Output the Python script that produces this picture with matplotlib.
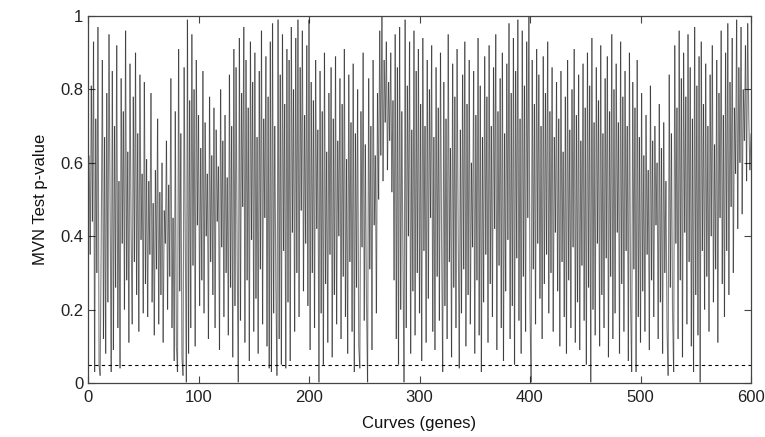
import matplotlib
matplotlib.use("Agg")
import matplotlib.pyplot as plt
import numpy as np
from matplotlib.collections import LineCollection

# MVN test p-values for each curve (gene)
pvalues = [
    0.62,0.35,0.81,0.44,0.93,0.03,0.72,0.30,0.97,0.05,0.02,0.41,0.88,0.12,0.67,0.08,0.79,0.22,0.95,0.48,
    0.03,0.85,0.09,0.70,0.26,0.92,0.15,0.55,0.04,0.83,0.38,0.74,0.20,0.96,0.28,0.63,0.11,0.87,0.42,0.16,
    0.78,0.33,0.90,0.24,0.68,0.14,0.84,0.39,0.57,0.19,0.82,0.27,0.61,0.18,0.55,0.35,0.79,0.22,0.49,0.13,
    0.58,0.31,0.72,0.16,0.52,0.24,0.60,0.11,0.47,0.38,0.66,0.20,0.54,0.29,0.83,0.15,0.45,0.06,0.74,0.10,
    0.03,0.91,0.25,0.68,0.07,0.02,0.86,0.40,0.002,0.99,0.08,0.77,0.15,0.95,0.32,0.80,0.10,0.88,0.43,0.73,
    0.21,0.64,0.28,0.85,0.19,0.71,0.40,0.57,0.12,0.78,0.33,0.62,0.24,0.75,0.15,0.69,0.44,0.59,0.09,0.80,
    0.37,0.66,0.18,0.73,0.30,0.56,0.13,0.84,0.26,0.70,0.07,0.91,0.21,0.86,0.34,0.002,0.94,0.17,0.79,0.48,
    0.97,0.11,0.88,0.28,0.75,0.06,0.93,0.39,0.82,0.14,0.90,0.23,0.67,0.08,0.85,0.31,0.96,0.16,0.72,0.45,
    0.89,0.10,0.78,0.04,0.93,0.03,0.98,0.19,0.70,0.27,0.02,0.99,0.12,0.84,0.05,0.95,0.36,0.76,0.04,0.91,
    0.22,0.88,0.06,0.97,0.41,0.80,0.14,0.94,0.30,0.99,0.18,0.86,0.47,0.96,0.25,0.73,0.38,0.92,0.21,0.99,
    0.09,0.82,0.30,0.77,0.15,0.88,0.42,0.69,0.002,0.85,0.19,0.74,0.05,0.90,0.27,0.63,0.11,0.79,0.35,0.86,
    0.07,0.72,0.24,0.89,0.16,0.66,0.40,0.83,0.12,0.76,0.29,0.91,0.18,0.61,0.08,0.84,0.33,0.71,0.14,0.87,
    0.03,0.68,0.26,0.80,0.10,0.04,0.74,0.37,0.90,0.17,0.65,0.22,0.002,0.83,0.31,0.70,0.09,0.88,0.43,0.62,
    0.19,0.79,0.50,0.96,0.62,1.00,0.55,0.88,0.71,0.93,0.58,0.82,0.66,0.90,0.52,0.77,0.28,0.95,0.12,0.86,
    0.05,0.97,0.20,0.74,0.34,0.002,0.99,0.15,0.81,0.40,0.93,0.08,0.69,0.25,0.96,0.13,0.85,0.30,0.91,0.19,
    0.76,0.06,0.94,0.36,0.70,0.11,0.88,0.23,0.80,0.45,0.92,0.14,0.67,0.09,0.86,0.29,0.75,0.17,0.90,0.38,
    0.03,0.82,0.21,0.72,0.12,0.95,0.33,0.64,0.07,0.87,0.26,0.78,0.15,0.91,0.41,0.04,0.69,0.19,0.84,0.31,
    0.93,0.10,0.76,0.24,0.88,0.16,0.60,0.37,0.85,0.08,0.73,0.28,0.94,0.13,0.81,0.03,0.67,0.22,0.89,0.35,
    0.78,0.11,0.92,0.27,0.70,0.18,0.86,0.42,0.95,0.09,0.74,0.32,0.83,0.15,0.90,0.06,0.68,0.25,0.87,0.39,
    0.98,0.12,0.79,0.21,0.94,0.05,0.85,0.34,0.99,0.17,0.72,0.08,0.96,0.29,0.81,0.14,0.93,0.45,1.00,0.20,
    0.002,0.88,0.31,0.76,0.16,0.91,0.38,0.84,0.23,0.70,0.12,0.89,0.27,0.79,0.35,0.93,0.19,0.74,0.30,0.86,
    0.14,0.67,0.41,0.82,0.25,0.72,0.10,0.85,0.33,0.63,0.18,0.78,0.08,0.88,0.28,0.69,0.15,0.80,0.37,0.91,
    0.11,0.73,0.22,0.84,0.09,0.66,0.32,0.87,0.17,0.75,0.05,0.90,0.26,0.81,0.002,0.94,0.20,0.71,0.13,0.86,
    0.38,0.77,0.10,0.92,0.24,0.68,0.15,0.83,0.34,0.89,0.07,0.74,0.29,0.95,0.12,0.80,0.19,0.87,0.41,0.71,
    0.08,0.93,0.27,0.78,0.14,0.85,0.36,0.70,0.06,0.90,0.22,0.03,0.82,0.31,0.75,0.03,0.88,0.18,0.67,0.11,
    0.79,0.25,0.62,0.14,0.73,0.35,0.58,0.09,0.81,0.28,0.66,0.18,0.70,0.43,0.60,0.12,0.76,0.22,0.64,0.08,
    0.71,0.30,0.55,0.15,0.02,0.84,0.26,0.68,0.19,0.03,0.92,0.38,0.75,0.12,0.96,0.28,0.83,0.07,0.90,0.41,
    0.78,0.16,0.95,0.33,0.86,0.10,0.72,0.03,0.97,0.24,0.81,0.13,0.89,0.002,0.93,0.36,0.76,0.20,0.87,0.29,
    0.70,0.14,0.84,0.40,0.92,0.22,0.65,0.31,0.88,0.11,0.79,0.45,0.96,0.27,0.73,0.18,0.90,0.36,0.98,0.24,
    0.82,0.48,0.94,0.30,0.75,0.57,0.99,0.42,0.86,0.60,0.97,0.46,0.80,0.66,0.92,0.55,0.98,0.72,0.58,0.68,
]
curves = list(range(1, len(pvalues) + 1))
alpha = 0.05

xticks = [0, 100, 200, 300, 400, 500, 600]
yticks = [0, 0.2, 0.4, 0.6, 0.8, 1]
ytick_labels = ["0", "0.2", "0.4", "0.6", "0.8", "1"]

plt.rcParams["font.family"] = ["Liberation Sans", "DejaVu Sans"]

fig = plt.figure(figsize=(7.65, 4.37), dpi=100)
ax = fig.add_axes([88 / 765, 54 / 437, 663 / 765, 367 / 437])

# draw the trace segment by segment so overlapping strokes darken
pts = np.column_stack([curves, pvalues])
segs = np.stack([pts[:-1], pts[1:]], axis=1)
ax.add_collection(LineCollection(segs, colors="black", linewidths=0.8, alpha=0.5))
ax.axhline(alpha, color="black", lw=0.8, ls=(0, (3, 3)))

ax.set_xlim(0, 600)
ax.set_ylim(0, 1)
ax.set_xticks(xticks)
ax.set_yticks(yticks)
ax.set_yticklabels(ytick_labels)
ax.tick_params(direction="in", top=True, right=True, length=5, width=0.8,
               labelsize=12, labelcolor="#222222", color="#444444")
ax.tick_params(axis="x", pad=5)
for s in ax.spines.values():
    s.set_color("#444444")
    s.set_linewidth(0.9)

ax.set_xlabel("Curves (genes)", fontsize=12, color="#111111", labelpad=8)
ax.set_ylabel("MVN Test p-value", fontsize=12, color="#111111", labelpad=9)

fig.savefig("out.png", dpi=100)
